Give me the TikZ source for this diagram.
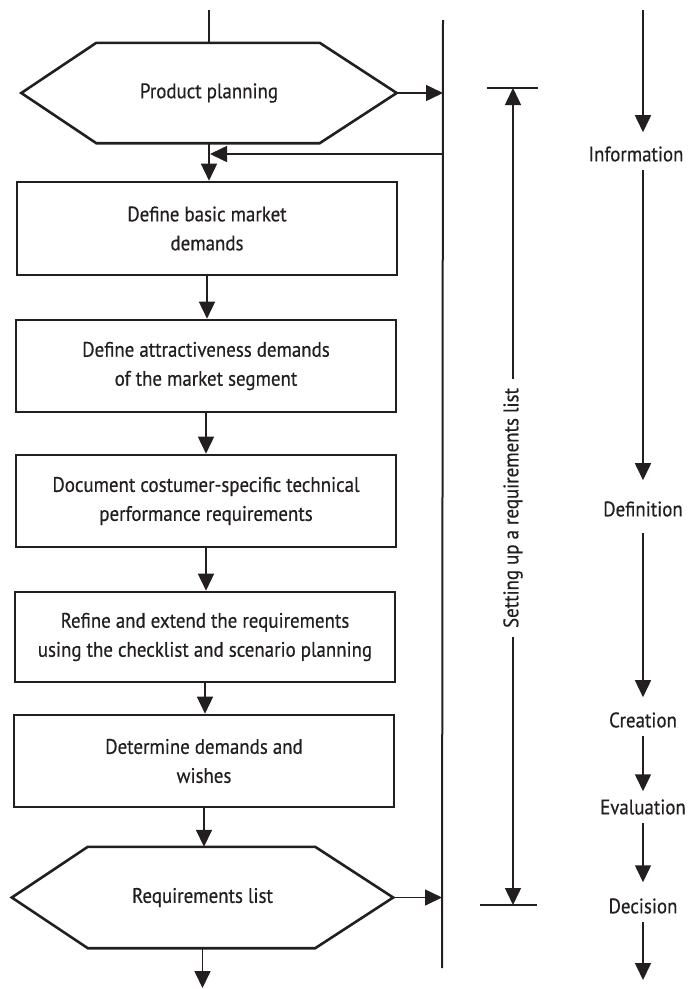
\documentclass[tikz,border=0pt]{standalone}
\usepackage{fontspec}
\setmainfont{PT Sans}[FakeStretch=0.9, FakeBold=0.5]
\usetikzlibrary{arrows.meta}
\definecolor{ink}{HTML}{231F20}
\begin{document}
\begin{tikzpicture}[x=1pt,y=-1pt,
  every node/.style={font=\fontsize{21}{29}\selectfont, text=ink},
  procbox/.style={draw=ink, line width=2.6pt, minimum width=380pt,
    minimum height=92pt, align=center, inner sep=0pt},
  hexcore/.style={minimum width=#1, minimum height=100pt, inner sep=0pt, align=center},
  hexline/.style={draw=ink, line width=2.6pt, line join=miter},
  link/.style={draw=ink, line width=1.6pt},
  flow/.style={link, -{Triangle[length=17pt,width=16pt]}},
  phase/.style={inner xsep=2pt, inner ysep=8pt},
]
\useasboundingbox (0,0) rectangle (688,989);

% ---- main process chain ----
\node[hexcore=375pt] (h1) at (209,93) {Product planning};
\draw[hexline] (h1.west) -- ([xshift=75pt]h1.north west) -- ([xshift=-77pt]h1.north east)
  -- (h1.east) -- ([xshift=-77pt]h1.south east) -- ([xshift=75pt]h1.south west) -- cycle;

\node[procbox, minimum height=93pt] (b1) at (207,228.5) {Define basic market\\demands};
\node[procbox] (b2) at (206,366) {Define attractiveness demands\\of the market segment};
\node[procbox] (b3) at (206,501) {Document costumer-specific technical\\performance requirements};
\node[procbox, minimum height=90pt] (b4) at (205,637) {Refine and extend the requirements\\using the checklist and scenario planning};
\node[procbox] (b5) at (204,761) {Determine demands and\\wishes};

\node[hexcore=381pt, minimum height=101pt] (h2) at (202.5,897.5) {Requirements list};
\draw[hexline] (h2.west) -- ([xshift=76pt]h2.north west) -- ([xshift=-78pt]h2.north east)
  -- (h2.east) -- ([xshift=-78pt]h2.south east) -- ([xshift=76pt]h2.south west) -- cycle;

\coordinate (inflow) at (209,10);
\coordinate (outflow) at (201,988);
\draw[link] (inflow) -- (h1.north);
\draw[flow] (h1.south) -- (h1.south |- b1.north);
\draw[flow] (b1.south) -- (b1.south |- b2.north);
\draw[flow] (b2.south) -- (b2.south |- b3.north);
\draw[flow] (b3.south) -- (b3.south |- b4.north);
\draw[flow] (b4.south) -- (b4.south |- b5.north);
\draw[flow] (b5.south) -- (b5.south |- h2.north);
\draw[flow] (h2.south) -- (h2.south |- outflow);

% ---- vertical bus with feedback ----
\coordinate (busTop) at (443,20);
\coordinate (busBot) at (442,968);
\coordinate (feedback) at (443,154);
\draw[link, line width=2pt] (busTop) -- (busBot);
\draw[flow] (h1.east) -- (h1.east -| busTop);
\draw[flow] (h2.east) -- (h2.east -| busBot);
\draw[flow, shorten >=1pt] (feedback) -- (feedback -| h1.south);

% ---- span of the requirements list ----
\coordinate (spanTop) at (513,88);
\coordinate (spanBot) at (513,905);
\node[rotate=90, fill=white, inner xsep=9pt, inner ysep=2pt] (span) at (513,508)
  {Setting up a requirements list};
\draw[flow, line width=1.5pt] (span.east) -- (spanTop);
\draw[flow, line width=1.5pt] (span.west) -- (spanBot);
\draw[link, line width=1.5pt] ([xshift=-26pt]spanTop) -- ([xshift=25pt]spanTop);
\draw[link, line width=2.4pt] ([xshift=-33pt]spanBot) -- ([xshift=24pt]spanBot);

% ---- problem-solving phases ----
\coordinate (phTop) at (643,10);
\coordinate (phEnd) at (643,980);
\node[phase] (pInfo) at (636,154) {Information};
\node[phase] (pDef)  at (643,509) {Definition};
\node[phase] (pCre)  at (643,720) {Creation};
\node[phase] (pEva)  at (643,807) {Evaluation};
\node[phase] (pDec)  at (643,906) {Decision};
\draw[flow, shorten >=6pt] (phTop) -- (phTop |- pInfo.north);
\draw[flow, shorten >=13pt] (pInfo.south -| phTop) -- (pDef.north);
\draw[flow, shorten <=8pt, shorten >=7pt] (pDef.south) -- (pCre.north);
\draw[flow] (pCre.south) -- (pEva.north);
\draw[flow, shorten >=8pt] (pEva.south) -- (pDec.north);
\draw[flow] (pDec.south) -- (phEnd);
\end{tikzpicture}
\end{document}
